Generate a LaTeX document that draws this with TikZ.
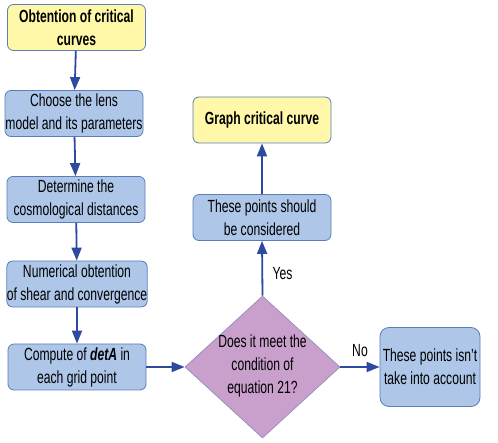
\documentclass[tikz,border=0pt]{standalone}
\usepackage{fontspec}
\setmainfont{Liberation Sans}[FakeStretch=0.69]
\usetikzlibrary{shapes.geometric,arrows.meta}
\definecolor{boxblue}{HTML}{AEC6E8}
\definecolor{boxyellow}{HTML}{FFF8A8}
\definecolor{edgeblue}{HTML}{5B7DB8}
\definecolor{arrowblue}{HTML}{2E4A9E}
\definecolor{diafill}{HTML}{C9A0CC}
\definecolor{diaedge}{HTML}{9A90C0}
\begin{document}
\begin{tikzpicture}[x=1pt,y=-1pt,
  every node/.style={font=\fontsize{17.6}{23}\selectfont, align=center},
  stepbox/.style={draw=edgeblue, line width=0.8pt, rounded corners=6pt, fill=boxblue, minimum width=138pt, minimum height=46pt, inner sep=0pt},
  ybox/.style={stepbox, fill=boxyellow},
  arr/.style={draw=arrowblue, line width=1.8pt, -{Triangle[length=13pt,width=10pt]}},
  lbl/.style={font=\fontsize{17.6}{20}\selectfont}
]
\useasboundingbox (0,0) rectangle (498,443);
\node[ybox] (b1) at (76.5,27.5) {\textbf{Obtention of critical}\\\textbf{curves}};
\node[stepbox] (b2) at (74,113.5) {Choose the lens\\model and its parameters};
\node[stepbox] (b3) at (76,199.5) {Determine the\\cosmological distances};
\node[stepbox] (b4) at (77,284) {Numerical obtention\\of shear and convergence};
\node[stepbox] (b5) at (77,367) {Compute of \textbf{\textit{detA}} in\\each grid point};
\node[draw=diaedge, line width=0.8pt, fill=diafill, diamond, minimum width=155pt, minimum height=142pt, inner sep=0pt] (d) at (262.5,367) {};
\node (dt) at (262.5,366) {Does it meet the\\condition of\\equation 21?};
\node[stepbox] (yb) at (262,217.5) {These points should\\be considered};
\node[ybox] (g) at (262,120) {\textbf{Graph critical curve}};
\node[stepbox, minimum width=100pt, minimum height=79pt, rounded corners=9pt] (nb) at (430,367) {These points isn't\\take into account};
\draw[arr] (b1) -- (b2);
\draw[arr] (b2) -- (b3);
\draw[arr] (b3) -- (b4);
\draw[arr] (b4) -- (b5);
\draw[arr] (b5.east) -- (d.west);
\draw[arr] (d.north) -- node[lbl, right=6pt, pos=0.4] (yes) {Yes} (yb.south);
\draw[arr] (yb) -- (g);
\draw[arr] (d.east) -- node[lbl, above=6pt] (no) {No} (nb.west);
\end{tikzpicture}
\end{document}
